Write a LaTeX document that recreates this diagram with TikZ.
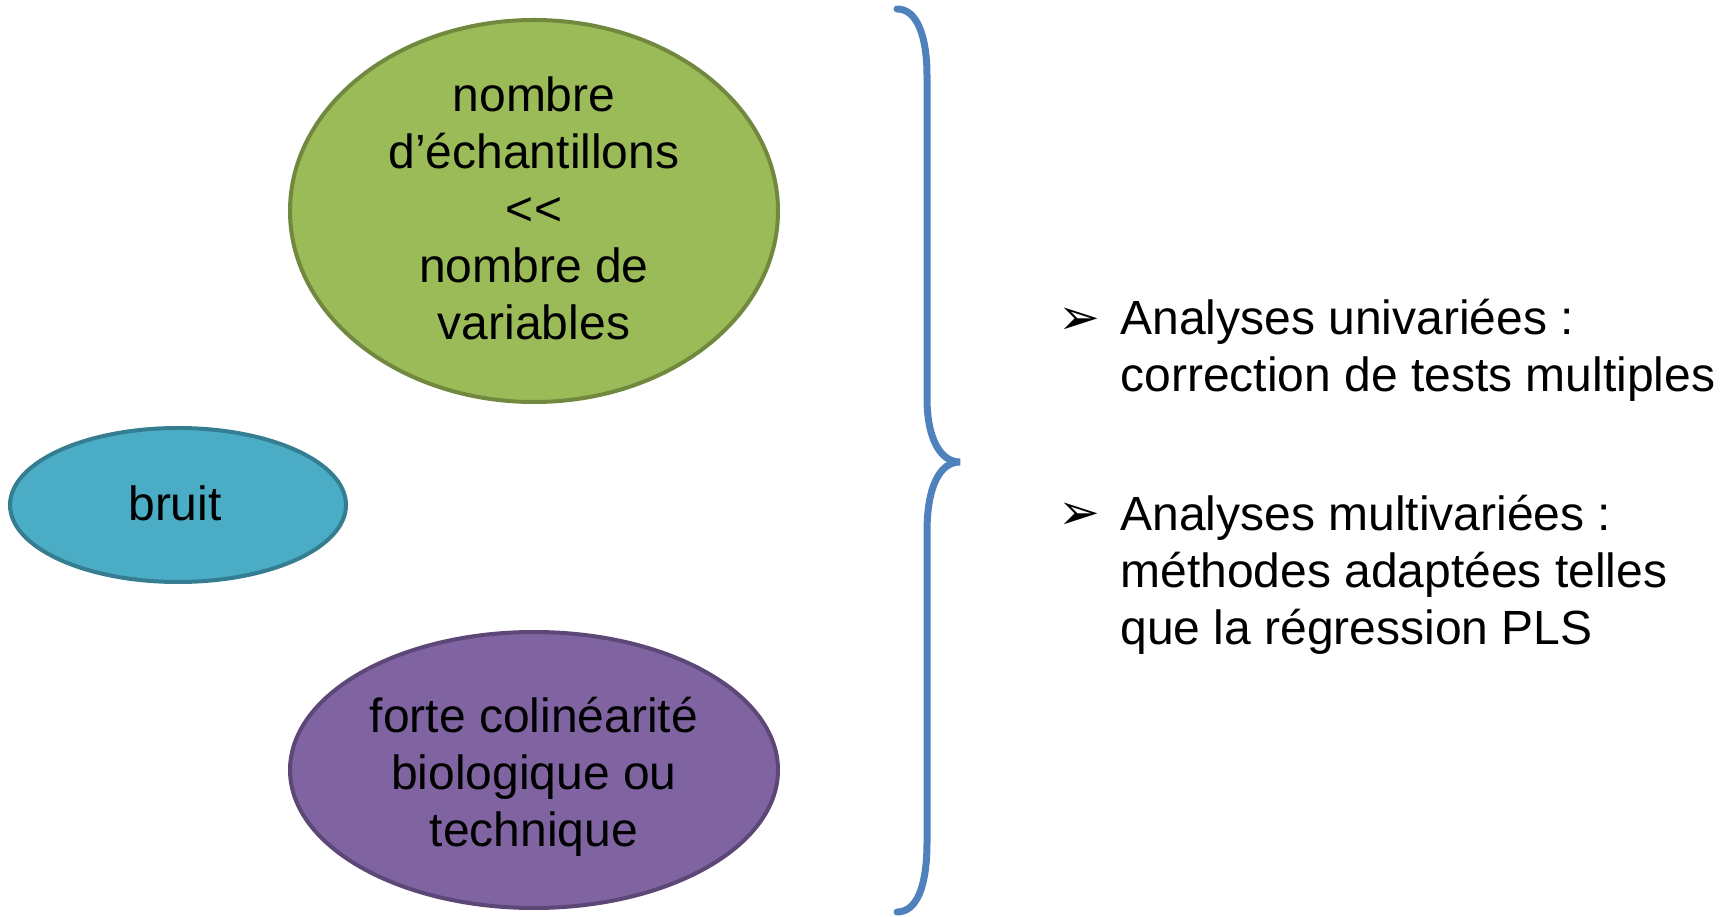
\documentclass[tikz,border=0pt]{standalone}
\usepackage{fontspec}
\setmainfont{Liberation Sans}
\newfontfamily\dingfont{DejaVu Sans}
\usetikzlibrary{shapes.geometric}
\definecolor{LeafGreen}{HTML}{9BBB59}
\definecolor{LeafGreenEdge}{HTML}{71893F}
\definecolor{SkyBlue}{HTML}{4BACC6}
\definecolor{SkyBlueEdge}{HTML}{357D91}
\definecolor{Plum}{HTML}{8064A2}
\definecolor{PlumEdge}{HTML}{5C4776}
\definecolor{BraceBlue}{HTML}{4F81BD}

\begin{document}
\begin{tikzpicture}[x=0.5pt, y=0.5pt,
    blob/.style={ellipse, draw, line width=2pt, inner sep=0pt},
    blobtext/.style={align=center, inner sep=0pt, font=\fontsize{24}{28.5}\selectfont},
    itemtext/.style={align=left, anchor=base west, inner sep=0pt, font=\fontsize{24}{28.5}\selectfont},
    itemmark/.style={anchor=base west, inner sep=0pt, font=\dingfont\fontsize{25}{25}\selectfont}]

    \useasboundingbox (0,0) rectangle (1729,916);

    % Ellipses on the left
    \node[blob, fill=LeafGreen, draw=LeafGreenEdge, minimum width=244pt, minimum height=191pt] (samples) at (534,705) {};
    \node[blob, fill=SkyBlue, draw=SkyBlueEdge, minimum width=168pt, minimum height=77pt] (noise) at (178,411) {};
    \node[blob, fill=Plum, draw=PlumEdge, minimum width=244pt, minimum height=138pt] (colin) at (534,146) {};

    \node[blobtext] (samplestext) at (534,708) {nombre\\d’échantillons\\<{}<\\nombre de\\variables};
    \node[blobtext] (noisetext) at (175,413) {bruit};
    \node[blobtext] (colintext) at (534,139) {forte colinéarité\\biologique ou\\technique};

    % Brace
    \coordinate (bracetop) at (897,907);
    \coordinate (bracetip) at (960,454);
    \coordinate (bracebot) at (897,4);
    \draw[BraceBlue, line width=3.5pt, line cap=round]
        (bracetop) .. controls (917,907) and (927,880) .. (927,840)
        -- (927,518) .. controls (927,478) and (940,454) .. (bracetip)
        .. controls (940,454) and (927,430) .. (927,384)
        -- (927,74) .. controls (927,30) and (917,4) .. (bracebot);

    % Items on the right
    \node[itemmark] (mark1) at (1058,581) {➢};
    \node[itemtext] (item1) at (1120,524) {Analyses univariées :\\correction de tests multiples};
    \node[itemmark] (mark2) at (1058,386) {➢};
    \node[itemtext] (item2) at (1120,271) {Analyses multivariées :\\méthodes adaptées telles\\que la régression PLS};
\end{tikzpicture}
\end{document}
